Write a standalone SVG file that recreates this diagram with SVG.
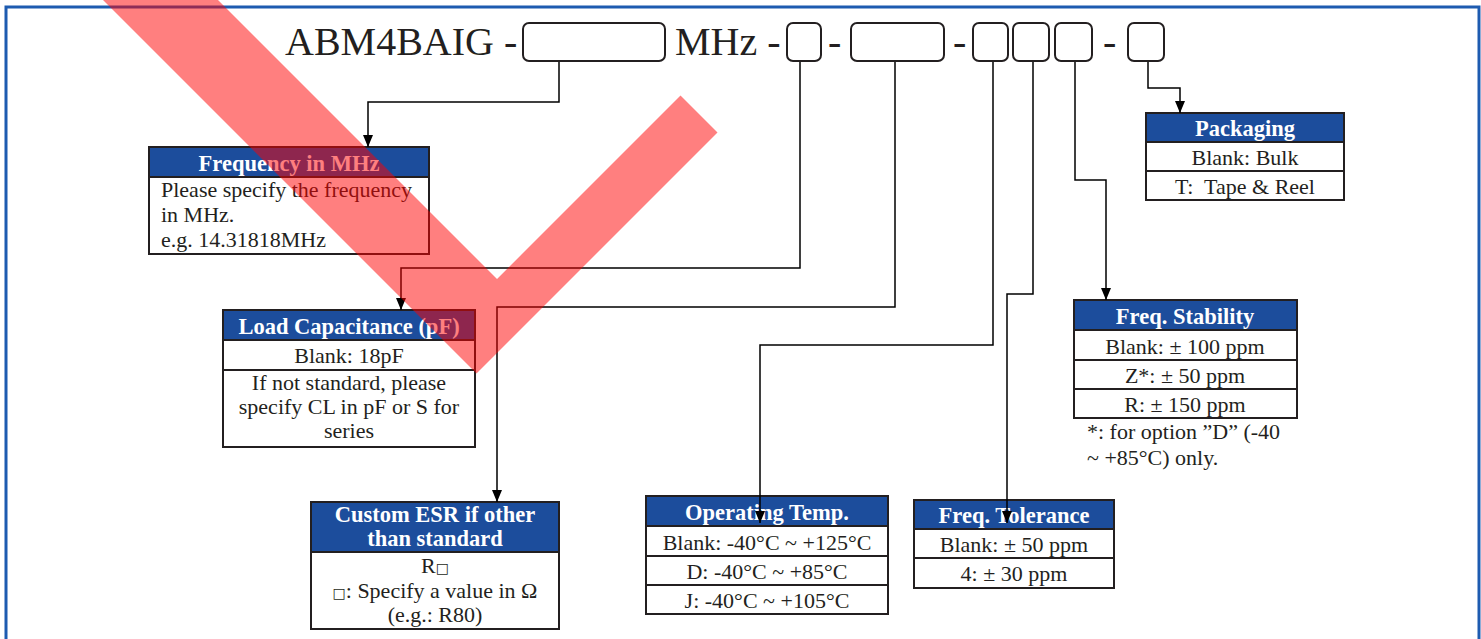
<svg xmlns="http://www.w3.org/2000/svg" width="1481" height="639" viewBox="0 0 1481 639">
<style>
.t{font-family:"Liberation Serif","Times New Roman",serif;fill:#231f20}
.title{font-size:40px}
.b{font-size:22px}
.h{font-size:22.5px;font-weight:bold;fill:#ffffff}
.sq{font-family:"DejaVu Sans",sans-serif;font-size:14px;fill:#231f20}
.box{fill:#ffffff;stroke:#231f20;stroke-width:2}
.hd{fill:#1c4d9c;stroke:#231f20;stroke-width:2}
.sep{stroke:#231f20;stroke-width:2}
.slot{fill:none;stroke:#231f20;stroke-width:2}
.con{fill:none;stroke:#000;stroke-width:1.5}
</style>
<defs>
<marker id="arr" markerUnits="userSpaceOnUse" viewBox="0 0 12 10" refX="12" refY="5" markerWidth="12" markerHeight="10" orient="auto">
<path d="M0,0 L12,5 L0,10 z" fill="#000"/>
</marker>
</defs>
<rect x="0" y="0" width="1481" height="639" fill="#ffffff"/>
<rect x="6" y="7" width="1473" height="650" fill="none" stroke="#1d5bb0" stroke-width="3"/>

<g id="title">
<text class="t title" x="285" y="55">ABM4BAIG -</text>
<text class="t title" x="675" y="55">MHz -</text>
<text class="t title" x="828" y="55">-</text>
<text class="t title" x="953" y="55">-</text>
<text class="t title" x="1103" y="55">-</text>
<rect class="slot" x="523" y="23" width="142" height="38" rx="6"/>
<rect class="slot" x="787" y="23" width="34" height="38" rx="6"/>
<rect class="slot" x="851" y="23" width="93" height="38" rx="6"/>
<rect class="slot" x="973" y="23" width="35" height="38" rx="6"/>
<rect class="slot" x="1013" y="23" width="36" height="38" rx="6"/>
<rect class="slot" x="1055" y="23" width="37" height="38" rx="6"/>
<rect class="slot" x="1128" y="23" width="36" height="38" rx="6"/>
</g>

<g id="freq">
<rect class="box" x="149" y="147" width="280" height="107"/>
<rect class="hd" x="149" y="147" width="280" height="30"/>
<text class="t h" x="289" y="171" text-anchor="middle">Frequency in MHz</text>
<text class="t b" x="161" y="197">Please specify the frequency</text>
<text class="t b" x="161" y="222">in MHz.</text>
<text class="t b" x="161" y="247">e.g. 14.31818MHz</text>
</g>

<g id="load">
<rect class="box" x="223" y="310" width="252" height="137"/>
<rect class="hd" x="223" y="310" width="252" height="30"/>
<line class="sep" x1="223" y1="370" x2="475" y2="370"/>
<text class="t h" x="349" y="334" text-anchor="middle">Load Capacitance (pF)</text>
<text class="t b" x="349" y="363" text-anchor="middle">Blank: 18pF</text>
<text class="t b" x="349" y="390" text-anchor="middle">If not standard, please</text>
<text class="t b" x="349" y="414" text-anchor="middle">specify CL in pF or S for</text>
<text class="t b" x="349" y="438" text-anchor="middle">series</text>
</g>

<g id="esr">
<rect class="box" x="311" y="502" width="248" height="127"/>
<rect class="hd" x="311" y="502" width="248" height="50"/>
<text class="t h" x="435" y="522" text-anchor="middle">Custom ESR if other</text>
<text class="t h" x="435" y="546" text-anchor="middle">than standard</text>
<text class="t b" x="435" y="573" text-anchor="middle">R<tspan class="sq">□</tspan></text>
<text class="t b" x="435" y="598" text-anchor="middle"><tspan class="sq">□</tspan>: Specify a value in Ω</text>
<text class="t b" x="435" y="622" text-anchor="middle">(e.g.: R80)</text>
</g>

<g id="optemp">
<rect class="box" x="646" y="496" width="242" height="118"/>
<rect class="hd" x="646" y="496" width="242" height="30"/>
<line class="sep" x1="646" y1="556" x2="888" y2="556"/>
<line class="sep" x1="646" y1="585" x2="888" y2="585"/>
<text class="t h" x="767" y="520" text-anchor="middle">Operating Temp.</text>
<text class="t b" x="767" y="550" text-anchor="middle">Blank: -40°C ~ +125°C</text>
<text class="t b" x="767" y="579" text-anchor="middle">D: -40°C ~ +85°C</text>
<text class="t b" x="767" y="608" text-anchor="middle">J: -40°C ~ +105°C</text>
</g>

<g id="freqtol">
<rect class="box" x="914" y="500" width="200" height="88"/>
<rect class="hd" x="914" y="500" width="200" height="29"/>
<line class="sep" x1="914" y1="558" x2="1114" y2="558"/>
<text class="t h" x="1014" y="523" text-anchor="middle">Freq. Tolerance</text>
<text class="t b" x="1014" y="552" text-anchor="middle">Blank: ± 50 ppm</text>
<text class="t b" x="1014" y="581" text-anchor="middle">4: ± 30 ppm</text>
</g>

<g id="freqstab">
<rect class="box" x="1074" y="300" width="223" height="118"/>
<rect class="hd" x="1074" y="300" width="223" height="30"/>
<line class="sep" x1="1074" y1="360" x2="1297" y2="360"/>
<line class="sep" x1="1074" y1="389" x2="1297" y2="389"/>
<text class="t h" x="1185" y="324" text-anchor="middle">Freq. Stability</text>
<text class="t b" x="1185" y="354" text-anchor="middle">Blank: ± 100 ppm</text>
<text class="t b" x="1185" y="383" text-anchor="middle">Z*: ± 50 ppm</text>
<text class="t b" x="1185" y="412" text-anchor="middle">R: ± 150 ppm</text>
<text class="t b" x="1087" y="439">*: for option ”D” (-40</text>
<text class="t b" x="1087" y="465">~ +85°C) only.</text>
</g>

<g id="packaging">
<rect class="box" x="1146" y="113" width="198" height="87"/>
<rect class="hd" x="1146" y="113" width="198" height="29"/>
<line class="sep" x1="1146" y1="171" x2="1344" y2="171"/>
<text class="t h" x="1245" y="136" text-anchor="middle">Packaging</text>
<text class="t b" x="1245" y="165" text-anchor="middle">Blank: Bulk</text>
<text class="t b" x="1245" y="194" text-anchor="middle">T:&#160; Tape &amp; Reel</text>
</g>

<g id="connectors">
<path class="con" d="M559,62 V102 H368 V147" marker-end="url(#arr)"/>
<path class="con" d="M800,62 V268 H401 V310" marker-end="url(#arr)"/>
<path class="con" d="M895,62 V307 H497 V502" marker-end="url(#arr)"/>
<path class="con" d="M993,62 V345 H760 V523" marker-end="url(#arr)"/>
<path class="con" d="M1033,62 V294 H1007 V523" marker-end="url(#arr)"/>
<path class="con" d="M1075,62 V180 H1106 V300" marker-end="url(#arr)"/>
<path class="con" d="M1148,62 V88 H1180 V113" marker-end="url(#arr)"/>
</g>

<polygon points="93,-10 208,-10 497,279 680.5,95.5 717.5,132.5 476.5,373.5" fill="#ff0000" fill-opacity="0.5"/>
</svg>
